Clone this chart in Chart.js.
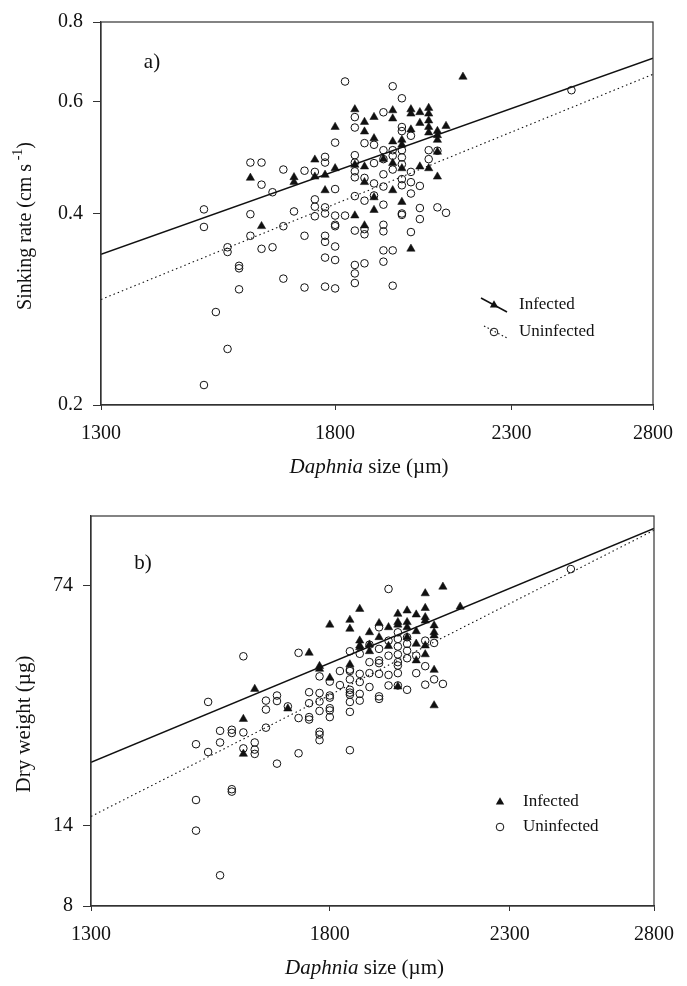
<!DOCTYPE html>
<html>
<head>
<meta charset="utf-8">
<script src="https://cdn.jsdelivr.net/npm/chart.js@4/dist/chart.umd.min.js"></script>
<style>
  html, body { margin: 0; padding: 0; background: #fff; }
  .panel { width: 687px; height: 493px; }
</style>
</head>
<body>
<div class="panel"><canvas id="chart-a" width="687" height="493"></canvas></div>
<div class="panel"><canvas id="chart-b" width="687" height="493"></canvas></div>
<script>
'use strict';

// ── Data ──────────────────────────────────────────────────────────────────────

const sizeTicks    = [1300, 1800, 2300, 2800];
const sinkingTicks = [0.2, 0.4, 0.6, 0.8];
const weightTicks  = [8, 14, 74];

// a) sinking rate (cm s-1) vs Daphnia size (µm)
const infectedA = [
  [1600,0.455],[1625,0.382],[1700,0.456],[1700,0.448],[1750,0.486],[1750,0.457],
  [1775,0.460],[1775,0.435],[1800,0.547],[1800,0.471],[1850,0.583],[1850,0.477],
  [1850,0.397],[1875,0.557],[1875,0.538],[1875,0.474],[1875,0.448],[1875,0.383],
  [1900,0.567],[1900,0.525],[1900,0.424],[1900,0.405],[1925,0.487],[1950,0.581],
  [1950,0.564],[1950,0.519],[1950,0.480],[1950,0.435],[1975,0.522],[1975,0.513],
  [1975,0.471],[1975,0.417],[2000,0.583],[2000,0.574],[2000,0.542],[2000,0.352],
  [2025,0.577],[2025,0.555],[2025,0.474],[2050,0.586],[2050,0.574],[2050,0.560],
  [2050,0.547],[2050,0.536],[2050,0.471],[2075,0.539],[2075,0.531],[2075,0.522],
  [2075,0.500],[2075,0.457],[2100,0.549],[2150,0.656],
];

const uninfectedA = [
  [1500,0.406],[1500,0.381],[1500,0.215],[1525,0.280],[1550,0.245],[1550,0.354],
  [1550,0.348],[1575,0.331],[1575,0.328],[1575,0.304],[1600,0.481],[1600,0.399],
  [1600,0.369],[1625,0.481],[1625,0.444],[1625,0.352],[1650,0.432],[1650,0.354],
  [1675,0.469],[1675,0.382],[1675,0.316],[1700,0.403],[1725,0.467],[1725,0.369],
  [1725,0.306],[1750,0.465],[1750,0.421],[1750,0.410],[1750,0.396],[1775,0.491],
  [1775,0.481],[1775,0.409],[1775,0.400],[1775,0.369],[1775,0.361],[1775,0.341],
  [1775,0.307],[1800,0.517],[1800,0.437],[1800,0.397],[1800,0.384],[1800,0.382],
  [1800,0.355],[1800,0.338],[1800,0.305],[1825,0.645],[1825,0.397],[1850,0.567],
  [1850,0.546],[1850,0.494],[1850,0.481],[1850,0.466],[1850,0.456],[1850,0.426],
  [1850,0.376],[1850,0.332],[1850,0.322],[1850,0.311],[1875,0.516],[1875,0.455],
  [1875,0.419],[1875,0.378],[1875,0.371],[1875,0.334],[1900,0.513],[1900,0.480],
  [1900,0.446],[1900,0.427],[1925,0.577],[1925,0.503],[1925,0.487],[1925,0.461],
  [1925,0.441],[1925,0.413],[1925,0.384],[1925,0.375],[1925,0.350],[1925,0.336],
  [1950,0.634],[1950,0.503],[1950,0.493],[1950,0.469],[1950,0.350],[1950,0.308],
  [1975,0.607],[1975,0.547],[1975,0.539],[1975,0.503],[1975,0.490],[1975,0.478],
  [1975,0.453],[1975,0.443],[1975,0.400],[1975,0.398],[2000,0.530],[2000,0.465],
  [2000,0.448],[2000,0.430],[2000,0.374],[2025,0.442],[2025,0.408],[2025,0.392],
  [2050,0.503],[2050,0.487],[2075,0.502],[2075,0.409],[2100,0.401],[2500,0.625],
];

const fitInfectedA   = [[1300,0.345],[2800,0.702]];
const fitUninfectedA = [[1300,0.293],[2800,0.662]];

// b) dry weight (µg) vs Daphnia size (µm)
const infectedB = [
  [1600,29.3],[1600,23.0],[1625,36.1],[1700,31.5],[1750,46.4],[1775,42.3],[1775,41.5],
  [1800,56.4],[1800,39.0],[1850,58.3],[1850,54.8],[1850,42.8],[1875,62.9],[1875,50.5],
  [1875,48.8],[1875,48.2],[1900,53.5],[1900,49.1],[1900,46.9],[1925,57.0],[1925,51.7],
  [1950,55.4],[1950,48.6],[1975,60.8],[1975,57.4],[1975,56.4],[1975,36.7],[2000,62.2],
  [2000,57.4],[2000,55.4],[2000,51.7],[2025,60.5],[2025,53.9],[2025,49.4],[2025,44.0],
  [2050,70.1],[2050,63.3],[2050,59.4],[2050,58.0],[2050,48.8],[2050,45.9],[2075,56.1],
  [2075,53.5],[2075,52.3],[2075,41.2],[2075,32.2],[2100,73.4],[2150,63.9],
];

const uninfectedB = [
  [1500,24.6],[1500,16.7],[1500,13.5],[1525,33.0],[1525,23.3],[1550,27.0],[1550,24.9],
  [1550,9.9],[1575,27.2],[1575,26.6],[1575,18.0],[1575,17.7],[1600,45.3],[1600,26.7],
  [1600,23.9],[1625,24.9],[1625,23.7],[1625,23.0],[1650,33.3],[1650,31.3],[1650,27.6],
  [1675,34.5],[1675,33.2],[1675,21.5],[1700,32.0],[1725,46.4],[1725,29.5],[1725,23.1],
  [1750,35.3],[1750,32.7],[1750,29.7],[1750,29.2],[1775,39.4],[1775,35.1],[1775,33.1],
  [1775,31.0],[1775,26.8],[1775,26.3],[1775,25.3],[1800,38.0],[1800,34.5],[1800,34.0],
  [1800,31.6],[1800,31.1],[1800,29.7],[1825,40.9],[1825,37.1],[1850,46.9],[1850,41.3],
  [1850,40.9],[1850,38.6],[1850,35.9],[1850,35.2],[1850,34.7],[1850,33.0],[1850,30.8],
  [1850,23.6],[1875,46.1],[1875,40.1],[1875,37.9],[1875,34.9],[1875,33.3],[1900,49.1],
  [1900,43.5],[1900,40.3],[1900,36.6],[1925,55.4],[1925,47.7],[1925,44.0],[1925,43.2],
  [1925,40.1],[1925,34.3],[1925,33.7],[1950,72.3],[1950,50.5],[1950,45.5],[1950,39.8],
  [1950,37.0],[1975,53.5],[1975,51.1],[1975,48.5],[1975,45.9],[1975,43.5],[1975,42.5],
  [1975,40.3],[1975,37.0],[2000,51.7],[2000,49.4],[2000,47.1],[2000,44.7],[2000,35.9],
  [2025,45.5],[2025,40.3],[2050,50.5],[2050,42.3],[2050,37.2],[2075,49.7],[2075,38.6],
  [2100,37.4],[2500,83.0],
];

const fitInfectedB   = [[1300,21.7],[2800,110]];
const fitUninfectedB = [[1300,14.9],[2800,108.7]];

// ── Helpers ───────────────────────────────────────────────────────────────────

const SERIF = '"Liberation Serif", "Times New Roman", serif';
const INK   = '#111';

const pts = arr => arr.map(([x, y]) => ({ x, y }));

function drawRun(ctx, parts, cx, cy, angle) {
  ctx.save();
  ctx.translate(cx, cy);
  ctx.rotate(angle || 0);
  ctx.textAlign = 'left';
  ctx.textBaseline = 'middle';
  let total = 0;
  parts.forEach(p => { ctx.font = p.font; total += ctx.measureText(p.text).width; });
  let x = -total / 2;
  parts.forEach(p => {
    ctx.font = p.font;
    ctx.fillText(p.text, x, -(p.rise || 0));
    x += ctx.measureText(p.text).width;
  });
  ctx.restore();
}

function triangle(ctx, x, y, r) {
  ctx.beginPath();
  ctx.moveTo(x, y - r);
  ctx.lineTo(x + r * 0.87, y + r * 0.5);
  ctx.lineTo(x - r * 0.87, y + r * 0.5);
  ctx.closePath();
  ctx.fill();
}

function circle(ctx, x, y, r) {
  ctx.beginPath();
  ctx.arc(x, y, r, 0, Math.PI * 2);
  ctx.stroke();
}

// frame, panel letter, axis titles and legend
const decor = {
  id: 'decor',
  afterDraw(chart, args, o) {
    const { ctx, chartArea: a } = chart;
    ctx.save();
    ctx.strokeStyle = '#333';
    ctx.lineWidth = 1.2;
    ctx.strokeRect(a.left, a.top, a.right - a.left, a.bottom - a.top);

    ctx.fillStyle = INK;
    drawRun(ctx, [{ text: o.letter, font: `21px ${SERIF}` }], o.letterX, o.letterY);

    drawRun(ctx, [
      { text: 'Daphnia', font: `italic 21px ${SERIF}` },
      { text: ' size (\u00B5m)', font: `21px ${SERIF}` },
    ], (a.left + a.right) / 2 - 8, o.xTitleY);

    drawRun(ctx, o.yTitle, o.yTitleX, o.yTitleY, -Math.PI / 2);

    // legend
    ctx.strokeStyle = INK;
    ctx.fillStyle = INK;
    const lg = o.legend;
    if (lg.lines) {
      ctx.lineWidth = 1.5;
      ctx.setLineDash([]);
      ctx.beginPath(); ctx.moveTo(lg.x - 13, lg.y1 - 7); ctx.lineTo(lg.x + 13, lg.y1 + 7); ctx.stroke();
      ctx.lineWidth = 1.1;
      ctx.setLineDash([1.5, 2.5]);
      ctx.beginPath(); ctx.moveTo(lg.x - 10, lg.y2 - 6); ctx.lineTo(lg.x + 13, lg.y2 + 6); ctx.stroke();
      ctx.setLineDash([]);
    }
    triangle(ctx, lg.x, lg.y1, 4.8);
    ctx.lineWidth = 1;
    circle(ctx, lg.x, lg.y2, 3.8);
    ctx.font = `17px ${SERIF}`;
    ctx.textAlign = 'left';
    ctx.textBaseline = 'middle';
    ctx.fillText('Infected', lg.tx, lg.y1);
    ctx.fillText('Uninfected', lg.tx, lg.y2);
    ctx.restore();
  },
};

function makePanel(id, p) {
  const tickFont = { family: SERIF, size: 20 };
  return new Chart(document.getElementById(id), {
    type: 'scatter',
    data: {
      datasets: [
        { data: pts(p.fitInf), showLine: true, pointRadius: 0, borderColor: INK, borderWidth: 1.5 },
        { data: pts(p.fitUninf), showLine: true, pointRadius: 0, borderColor: INK, borderWidth: 1.1,
          borderDash: [1.5, 3] },
        { data: pts(p.uninf), pointStyle: 'circle', pointRadius: 3.8, borderWidth: 1,
          borderColor: INK, backgroundColor: 'rgba(255,255,255,0)' },
        { data: pts(p.inf), pointStyle: 'triangle', pointRadius: 4.8, borderWidth: 0.5,
          borderColor: INK, backgroundColor: INK },
      ],
    },
    options: {
      responsive: false,
      animation: false,
      events: [],
      layout: { padding: p.padding },
      plugins: { legend: { display: false }, tooltip: { enabled: false }, decor: p.decor },
      scales: {
        x: {
          type: 'logarithmic', min: 1300, max: 2800,
          afterBuildTicks: s => { s.ticks = sizeTicks.map(v => ({ value: v })); },
          afterFit: s => { s.height = p.xHeight; },
          ticks: { callback: v => String(v), font: tickFont, color: INK, padding: 12,
                   maxRotation: 0, autoSkip: false },
          grid: { drawOnChartArea: false, drawTicks: true, tickLength: 5, tickColor: '#333' },
          border: { color: '#333', width: 1.2 },
        },
        y: {
          type: 'logarithmic', min: p.yMin, max: p.yMax,
          afterBuildTicks: s => { s.ticks = p.yTicks.map(v => ({ value: v })); },
          afterFit: s => { s.width = p.yWidth; },
          ticks: { callback: v => String(v), font: tickFont, color: INK, padding: 10, autoSkip: false },
          grid: { drawOnChartArea: false, drawTicks: true, tickLength: 8, tickColor: '#333' },
          border: { color: '#333', width: 1.2 },
        },
      },
    },
    plugins: [decor],
  });
}

// ── Panels ────────────────────────────────────────────────────────────────────

makePanel('chart-a', {
  inf: infectedA, uninf: uninfectedA, fitInf: fitInfectedA, fitUninf: fitUninfectedA,
  yMin: 0.2, yMax: 0.8, yTicks: sinkingTicks,
  padding: { top: 17, right: 34, left: 0, bottom: 0 }, xHeight: 88, yWidth: 101,
  decor: {
    letter: 'a)', letterX: 152, letterY: 62,
    xTitleY: 467,
    yTitleX: 26, yTitleY: 226,
    yTitle: [
      { text: 'Sinking rate (cm s', font: `20px ${SERIF}` },
      { text: ' -1', font: `14px ${SERIF}`, rise: 8 },
      { text: ')', font: `20px ${SERIF}` },
    ],
    legend: { lines: true, x: 494, y1: 305, y2: 332, tx: 519 },
  },
});

makePanel('chart-b', {
  inf: infectedB, uninf: uninfectedB, fitInf: fitInfectedB, fitUninf: fitUninfectedB,
  yMin: 8, yMax: 120, yTicks: weightTicks,
  padding: { top: 23, right: 33, left: 0, bottom: 0 }, xHeight: 80, yWidth: 91,
  decor: {
    letter: 'b)', letterX: 143, letterY: 70,
    xTitleY: 475,
    yTitleX: 24, yTitleY: 231,
    yTitle: [{ text: 'Dry weight (\u00B5g)', font: `21px ${SERIF}` }],
    legend: { lines: false, x: 500, y1: 309, y2: 334, tx: 523 },
  },
});
</script>
</body>
</html>
